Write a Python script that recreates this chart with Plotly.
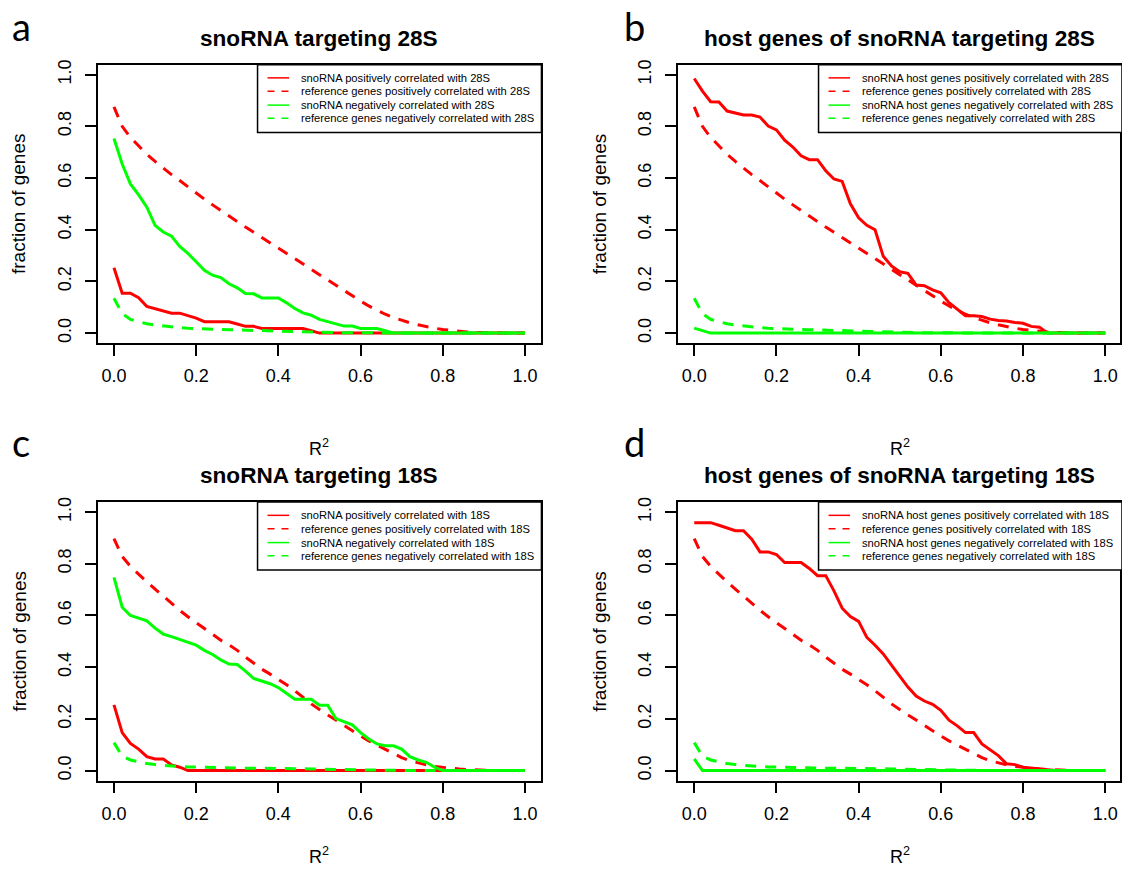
import plotly.graph_objects as go

# ---------------- data ----------------
r2 = [0.00, 0.02, 0.04, 0.06, 0.08, 0.10, 0.12, 0.14, 0.16, 0.18,
      0.20, 0.22, 0.24, 0.26, 0.28, 0.30, 0.32, 0.34, 0.36, 0.38,
      0.40, 0.42, 0.44, 0.46, 0.48, 0.50, 0.52, 0.54, 0.56, 0.58,
      0.60, 0.62, 0.64, 0.66, 0.68, 0.70, 0.72, 0.74, 0.76, 0.78,
      0.80, 0.82, 0.84, 0.86, 0.88, 0.90, 0.92, 0.94, 0.96, 0.98, 1.00]

# panel a : snoRNA targeting 28S
a_pos = [0.253, 0.154, 0.154, 0.137, 0.103, 0.094, 0.085, 0.077, 0.077, 0.068,
         0.058, 0.044, 0.044, 0.044, 0.044, 0.035, 0.026, 0.026, 0.018, 0.018,
         0.018, 0.018, 0.018, 0.018, 0.009, 0.0] + [0.0] * 25
a_neg = [0.753, 0.654, 0.577, 0.535, 0.487, 0.417, 0.391, 0.375, 0.335, 0.308,
         0.276, 0.243, 0.224, 0.215, 0.191, 0.175, 0.153, 0.152, 0.136, 0.136,
         0.136, 0.117, 0.095, 0.078, 0.069, 0.053, 0.044, 0.035, 0.027, 0.027,
         0.018, 0.018, 0.018, 0.009, 0.0] + [0.0] * 16
ref_pos_28 = [0.875, 0.800, 0.757, 0.724, 0.692, 0.664, 0.638, 0.613, 0.590, 0.565,
              0.542, 0.518, 0.496, 0.474, 0.452, 0.431, 0.410, 0.390, 0.370, 0.350,
              0.330, 0.310, 0.290, 0.268, 0.247, 0.226, 0.205, 0.184, 0.163, 0.143,
              0.124, 0.105, 0.088, 0.073, 0.060, 0.049, 0.040, 0.032, 0.025, 0.019,
              0.014, 0.010, 0.007, 0.004, 0.002, 0.001] + [0.0] * 5
ref_neg_28 = [0.135, 0.075, 0.053, 0.043, 0.036, 0.031, 0.027, 0.024, 0.021, 0.019,
              0.017, 0.016, 0.015, 0.014, 0.013, 0.012, 0.011, 0.010, 0.009, 0.009,
              0.008, 0.007, 0.006, 0.005, 0.004, 0.003, 0.002, 0.002, 0.001, 0.001,
              0.001] + [0.0] * 20

# panel b : host genes of snoRNA targeting 28S
b_pos = [0.985, 0.936, 0.895, 0.894, 0.859, 0.850, 0.844, 0.844, 0.836, 0.801,
         0.786, 0.746, 0.720, 0.686, 0.671, 0.671, 0.628, 0.596, 0.587, 0.500,
         0.446, 0.417, 0.400, 0.297, 0.260, 0.237, 0.231, 0.186, 0.183, 0.167,
         0.156, 0.118, 0.092, 0.067, 0.067, 0.064, 0.054, 0.049, 0.047, 0.041,
         0.038, 0.026, 0.023, 0.0] + [0.0] * 7
b_neg = [0.019, 0.010] + [0.0] * 49

# panel c : snoRNA targeting 18S
c_pos = [0.254, 0.147, 0.105, 0.083, 0.054, 0.045, 0.045, 0.022, 0.013, 0.0] + [0.0] * 41
c_neg = [0.747, 0.632, 0.600, 0.590, 0.579, 0.551, 0.528, 0.518, 0.508, 0.497,
         0.485, 0.465, 0.449, 0.428, 0.412, 0.410, 0.385, 0.356, 0.345, 0.336,
         0.321, 0.299, 0.276, 0.276, 0.276, 0.253, 0.253, 0.201, 0.188, 0.177,
         0.147, 0.122, 0.103, 0.096, 0.096, 0.083, 0.054, 0.041, 0.032, 0.013,
         0.0] + [0.0] * 10
ref_pos_18 = [0.897, 0.828, 0.790, 0.759, 0.730, 0.702, 0.675, 0.645, 0.620, 0.595,
              0.572, 0.549, 0.525, 0.504, 0.486, 0.465, 0.439, 0.414, 0.392, 0.373,
              0.353, 0.332, 0.309, 0.283, 0.258, 0.236, 0.215, 0.194, 0.173, 0.152,
              0.134, 0.115, 0.098, 0.081, 0.064, 0.050, 0.038, 0.029, 0.022, 0.016,
              0.012, 0.009, 0.006, 0.004, 0.002, 0.001] + [0.0] * 5
ref_neg_18 = [0.108, 0.055, 0.041, 0.033, 0.027, 0.023, 0.020, 0.017, 0.015, 0.014,
              0.013, 0.012, 0.011, 0.011, 0.010, 0.010, 0.009, 0.009, 0.009, 0.008,
              0.008, 0.008, 0.007, 0.007, 0.006, 0.005, 0.005, 0.004, 0.004, 0.003,
              0.003, 0.002, 0.002, 0.001, 0.001, 0.001] + [0.0] * 15

# panel d : host genes of snoRNA targeting 18S
d_pos = [0.959, 0.959, 0.959, 0.949, 0.938, 0.928, 0.928, 0.895, 0.846, 0.846,
         0.836, 0.805, 0.805, 0.805, 0.782, 0.754, 0.754, 0.695, 0.628, 0.596,
         0.577, 0.515, 0.485, 0.451, 0.408, 0.365, 0.323, 0.288, 0.269, 0.256,
         0.233, 0.195, 0.173, 0.147, 0.147, 0.103, 0.079, 0.058, 0.026, 0.023,
         0.013, 0.009, 0.006, 0.003] + [0.0] * 7
d_neg = [0.045, 0.0] + [0.0] * 49

tick_vals = [0.0, 0.2, 0.4, 0.6, 0.8, 1.0]
tick_text = ["0.0", "0.2", "0.4", "0.6", "0.8", "1.0"]

titles = ["snoRNA targeting 28S", "host genes of snoRNA targeting 28S",
          "snoRNA targeting 18S", "host genes of snoRNA targeting 18S"]
panel_letters = ["a", "b", "c", "d"]
legend_labels = [
    ["snoRNA positively correlated with 28S", "reference genes positively correlated with 28S",
     "snoRNA negatively correlated with 28S", "reference genes negatively correlated with 28S"],
    ["snoRNA host genes positively correlated with 28S", "reference genes positively correlated with 28S",
     "snoRNA host genes negatively correlated with 28S", "reference genes negatively correlated with 28S"],
    ["snoRNA positively correlated with 18S", "reference genes positively correlated with 18S",
     "snoRNA negatively correlated with 18S", "reference genes negatively correlated with 18S"],
    ["snoRNA host genes positively correlated with 18S", "reference genes positively correlated with 18S",
     "snoRNA host genes negatively correlated with 18S", "reference genes negatively correlated with 18S"],
]
series = [
    [a_pos, ref_pos_28, a_neg, ref_neg_28],
    [b_pos, ref_pos_28, b_neg, ref_neg_28],
    [c_pos, ref_pos_18, c_neg, ref_neg_18],
    [d_pos, ref_pos_18, d_neg, ref_neg_18],
]

# ---------------- layout helpers ----------------
W, H = 1122, 869
RED, GREEN = "#FF0000", "#00FF00"
colors = [RED, RED, GREEN, GREEN]
dashes = ["solid", "11px,9px", "solid", "11px,9px"]
FONT = "Liberation Sans, Arial, sans-serif"


def fx(px):
    return px / W


def fy(py):
    return 1 - py / H


# plot boxes in pixels: (left, right, top, bottom)
boxes = [(97.7, 542.4, 60, 340), (679, 1124, 60, 340),
         (97.7, 542.4, 500, 780), (679, 1124, 500, 780)]
XPU = 411.7  # px per x unit

fig = go.Figure()
axis_common = dict(showline=True, linecolor="black", linewidth=1.5, mirror=True,
                   ticks="outside", ticklen=11, tickwidth=1.5, tickcolor="black",
                   showgrid=False, zeroline=False, tickvals=tick_vals, ticktext=tick_text,
                   tickfont=dict(family=FONT, size=18, color="black"))

annotations = []
shapes = []
for i in range(4):
    L, R, T, B = boxes[i]
    xs = "" if i == 0 else str(i + 1)
    right_px = min(R, W)
    xmax = -0.04 + (right_px - L) / XPU
    fig.update_layout(**{
        f"xaxis{xs}": dict(domain=[fx(L), fx(right_px)], range=[-0.04, xmax],
                           anchor=f"y{xs}", ticklabelstandoff=5, **axis_common),
        f"yaxis{xs}": dict(domain=[fy(B), fy(T)], range=[-0.0385, 1.0385],
                           anchor=f"x{xs}", tickangle=-90, ticklabelstandoff=7, **axis_common),
    })
    for k in range(4):
        fig.add_trace(go.Scatter(x=r2, y=series[i][k], mode="lines",
                                 line=dict(color=colors[k], width=3, dash=dashes[k]),
                                 xaxis=f"x{xs}", yaxis=f"y{xs}", showlegend=False,
                                 hoverinfo="skip"))
    cx = (L + R) / 2
    # title
    annotations.append(dict(x=fx(cx), y=fy(T - 26.5), xref="paper", yref="paper",
                            text=f"<b>{titles[i]}</b>", showarrow=False,
                            xanchor="center", yanchor="middle",
                            font=dict(family=FONT, size=22.6, color="black")))
    # y label
    annotations.append(dict(x=fx(L - 78.5), y=fy((T + B) / 2), xref="paper", yref="paper",
                            text="fraction of genes", textangle=-90, showarrow=False,
                            xanchor="center", yanchor="middle",
                            font=dict(family=FONT, size=19, color="black")))
    # x label
    xl_y = 445 if i < 2 else 855
    annotations.append(dict(x=fx(cx), y=fy(xl_y), xref="paper", yref="paper",
                            text="R<sup>2</sup>", showarrow=False,
                            xanchor="center", yanchor="middle",
                            font=dict(family=FONT, size=18, color="black")))
    # panel letter
    lx = 10 if i % 2 == 0 else 623
    ly = 21 if i < 2 else 440
    annotations.append(dict(x=fx(lx), y=fy(ly), xref="paper", yref="paper",
                            text=panel_letters[i], showarrow=False,
                            xanchor="left", yanchor="middle",
                            font=dict(family="Lato, Carlito, sans-serif", size=38, color="black")))
    # legend box
    leg_left = L + 160.3 if i % 2 == 0 else L + 141
    shapes.append(dict(type="rect", xref="paper", yref="paper",
                       x0=fx(leg_left), x1=fx(R), y0=fy(T), y1=fy(T + 68.3),
                       line=dict(color="black", width=1.5), fillcolor="white", layer="above"))
    rows = [13.3, 26.7, 40.7, 54.0]
    for k in range(4):
        ry = T + rows[k]
        shapes.append(dict(type="line", xref="paper", yref="paper",
                           x0=fx(leg_left + 10), x1=fx(leg_left + 31.6), y0=fy(ry), y1=fy(ry),
                           line=dict(color=colors[k], width=1.5,
                                     dash="solid" if k % 2 == 0 else "7px,7px"),
                           layer="above"))
        annotations.append(dict(x=fx(leg_left + 41.5), y=fy(ry), xref="paper", yref="paper",
                                text=legend_labels[i][k], showarrow=False,
                                xanchor="left", yanchor="middle",
                                font=dict(family=FONT, size=11.2, color="black")))

fig.update_layout(width=W, height=H, margin=dict(l=0, r=0, t=0, b=0),
                  paper_bgcolor="white", plot_bgcolor="white",
                  annotations=annotations, shapes=shapes, showlegend=False)

fig.write_html("out.html")
